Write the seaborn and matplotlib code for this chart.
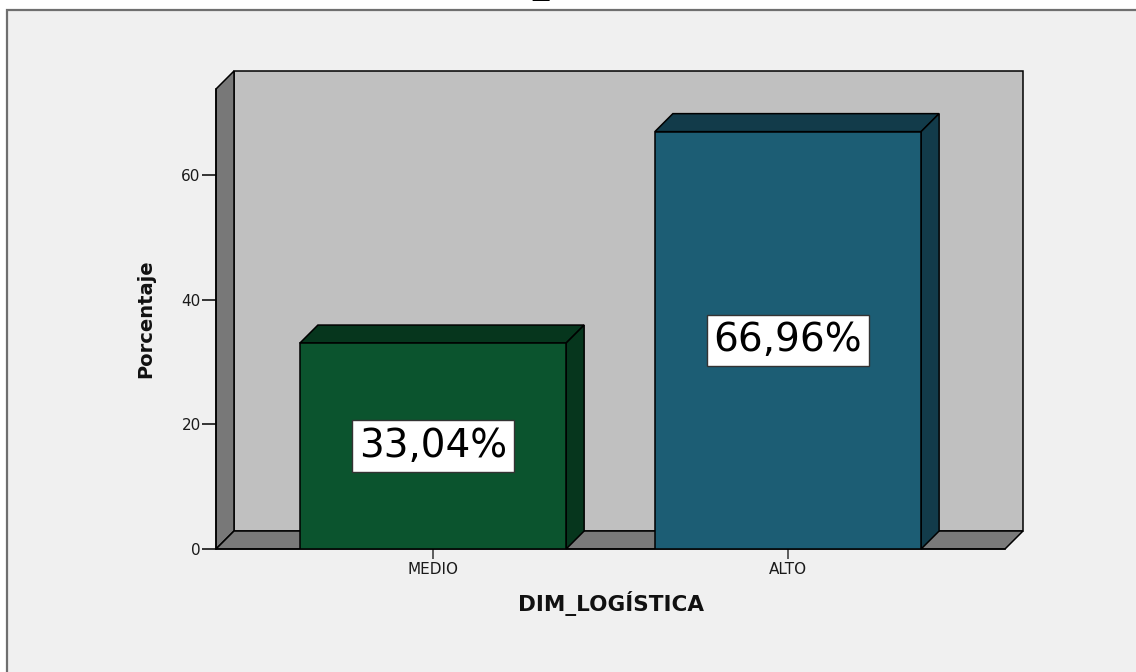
import numpy as np
import pandas as pd
import matplotlib
matplotlib.use("Agg")
import matplotlib.pyplot as plt
import seaborn as sns
from matplotlib.patches import Polygon, Rectangle

# ---- data ----
categories = ["MEDIO", "ALTO"]
percentages = [33.04, 66.96]
value_labels = ["33,04%", "66,96%"]
y_ticks = [0, 20, 40, 60]
x_title = "DIM_LOGÍSTICA"
y_title = "Porcentaje"
chart_title = "DIM_LOGÍSTICA"

front_colors = ["#0b542e", "#1c5d74"]
dark_colors = ["#06361d", "#123b4a"]

sns.set_theme(style="white")
plt.rcParams['font.family'] = ['DejaVu Sans']

W, H = 1136, 672
fig = plt.figure(figsize=(W / 100, H / 100), dpi=100, facecolor='white')

# panel background with frame (top/left visible)
fig.add_artist(Rectangle((7 / W, -0.05), 1.1, (H - 10) / H + 0.05,
                         transform=fig.transFigure, facecolor='#f0f0f0',
                         edgecolor='#6f6f6f', lw=1.6, zorder=-10))
# title mostly cut off at top in the reference (only the underscore shows)
fig.text(605 / W, 1 + 7.4 / H, chart_title, ha='center', va='baseline',
         fontsize=24.5, fontweight='bold', color='black')

ax = fig.add_axes([216 / W, 123 / H, 789 / W, 460 / H])
ax.set_facecolor('none')

df = pd.DataFrame({"cat": categories, "pct": percentages})
sns.barplot(data=df, x="cat", y="pct", hue="cat", palette=front_colors,
            width=0.75, legend=False, edgecolor='black', linewidth=1.1,
            saturation=1, ax=ax, zorder=3)

ax.set_xlim(-0.6113, 1.6113)
ax.set_ylim(0, 73.8)

DX, DY = 18, 18


def back(x, y):
    d = ax.transData.transform((x, y))
    return ax.transData.inverted().transform(d + np.array([DX, DY]))


x0, x1 = ax.get_xlim()
y0, y1 = ax.get_ylim()
edge = dict(edgecolor='black', lw=1.1, clip_on=False)
ax.add_patch(Polygon([back(x0, y0), back(x1, y0), back(x1, y1), back(x0, y1)],
                     facecolor='#c0c0c0', zorder=0.5, **edge))
ax.add_patch(Polygon([(x0, y0), (x0, y1), back(x0, y1), back(x0, y0)],
                     facecolor='#787878', zorder=0.6, **edge))
ax.add_patch(Polygon([(x0, y0), (x1, y0), back(x1, y0), back(x0, y0)],
                     facecolor='#7a7a7a', zorder=0.7, **edge))

bars = [p for p in ax.patches if not isinstance(p, Polygon)]
for p, dc in zip(bars, dark_colors):
    bx, by, bw, bh = p.get_x(), p.get_y(), p.get_width(), p.get_height()
    ax.add_patch(Polygon([(bx, by + bh), (bx + bw, by + bh),
                          back(bx + bw, by + bh), back(bx, by + bh)],
                         facecolor=dc, zorder=2.9, **edge))
    ax.add_patch(Polygon([(bx + bw, by), (bx + bw, by + bh),
                          back(bx + bw, by + bh), back(bx + bw, by)],
                         facecolor=dc, zorder=2.9, **edge))

for p, lab in zip(bars, value_labels):
    cx = p.get_x() + p.get_width() / 2
    ax.text(cx, p.get_height() / 2, lab, ha='center', va='center',
            fontsize=28, color='black', zorder=6,
            bbox=dict(boxstyle='square,pad=0.17', facecolor='white',
                      edgecolor='#333333', lw=1))

for s in ['top', 'right']:
    ax.spines[s].set_visible(False)
for s in ['left', 'bottom']:
    ax.spines[s].set_color('black')
    ax.spines[s].set_linewidth(1.1)
    ax.spines[s].set_zorder(1)

ax.set_yticks(y_ticks)
ax.tick_params(axis='y', left=True, length=10, width=1.1, color='black',
               pad=1, labelsize=11, labelcolor='#1a1a1a')
ax.tick_params(axis='x', bottom=True, length=7, width=1.1, color='#333333',
               pad=2, labelsize=11, labelcolor='#1a1a1a')

ax.set_xlabel(x_title, fontsize=15.5, fontweight='bold', color='#111111')
ax.xaxis.set_label_coords(0.5, -0.091)
ax.set_ylabel(y_title, fontsize=14, fontweight='bold', color='#111111')
ax.yaxis.set_label_coords(-0.0773, 0.5)

fig.savefig("out.png", dpi=100, facecolor=fig.get_facecolor())
